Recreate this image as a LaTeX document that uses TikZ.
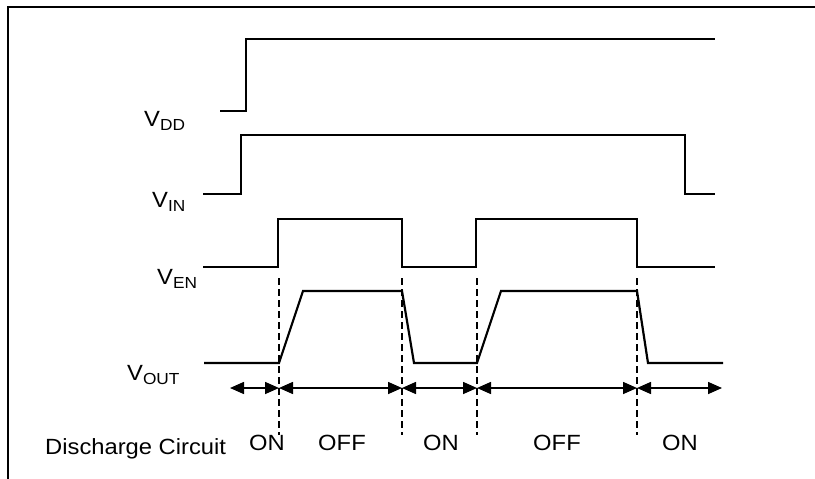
\documentclass[tikz,border=0pt]{standalone}
\usepackage{fontspec}
\setmainfont[FakeStretch=1.08]{Liberation Sans}
\usetikzlibrary{arrows.meta}

\newcommand{\sig}[2]{#1\raisebox{-4.5pt}{\fontsize{16}{18}\selectfont #2}}

\begin{document}
\begin{tikzpicture}[
  x=1pt,y=-1pt,
  >={Triangle[length=14pt,width=12pt]},
  wave/.style={line width=2.2pt},
  tickline/.style={line width=2.2pt,dash pattern=on 7pt off 4pt},
  interval/.style={<->,line width=1.6pt},
  lbl/.style={anchor=base west,inner sep=0pt,font=\fontsize{22}{26}\selectfont},
  state/.style={anchor=base,inner sep=0pt,font=\fontsize{22}{26}\selectfont}
]
  \useasboundingbox (0,0) rectangle (815,479);
  \draw[line width=2.2pt] (8,479) -- (8,7) -- (815,7);

  % signal names
  \node[lbl] (vdd) at (144,126) {\sig{V}{DD}};
  \node[lbl] (vin) at (152,207) {\sig{V}{IN}};
  \node[lbl] (ven) at (157,284) {\sig{V}{EN}};
  \node[lbl] (vout) at (127,380) {\sig{V}{OUT}};

  % waveforms
  \draw[wave] (220,111) -| (246,39) -- (715,39);
  \draw[wave] (203,194) -| (241,135) -| (685,194) -- (715,194);
  \draw[wave] (203,267) -| (278,219) -| (402,267) -| (476,219) -| (637,267) -- (715,267);
  \draw[wave] (204,363) -- (279,363) -- (303,291) -- (402,291) -- (414,363)
    -- (477,363) -- (501,291) -- (637,291) -- (648,363) -- (723,363);

  % time marks
  \foreach \n/\x in {0/230,1/279,2/402,3/477,4/637,5/722}
    \coordinate (t\n) at (\x,388);
  \foreach \n in {1,...,4}
    \draw[tickline] (t\n |- 0,278) -- (t\n |- 0,435);
  \foreach \a/\b in {0/1,1/2,2/3,3/4,4/5}
    \draw[interval] (t\a) -- (t\b);

  % discharge states
  \node[lbl] (dc) at (45,454) {Discharge Circuit};
  \node[state] (on1) at (267,450) {ON};
  \node[state] (off1) at (342,450) {OFF};
  \node[state] (on2) at (441,450) {ON};
  \node[state] (off2) at (557,450) {OFF};
  \node[state] (on3) at (680,450) {ON};
\end{tikzpicture}
\end{document}
